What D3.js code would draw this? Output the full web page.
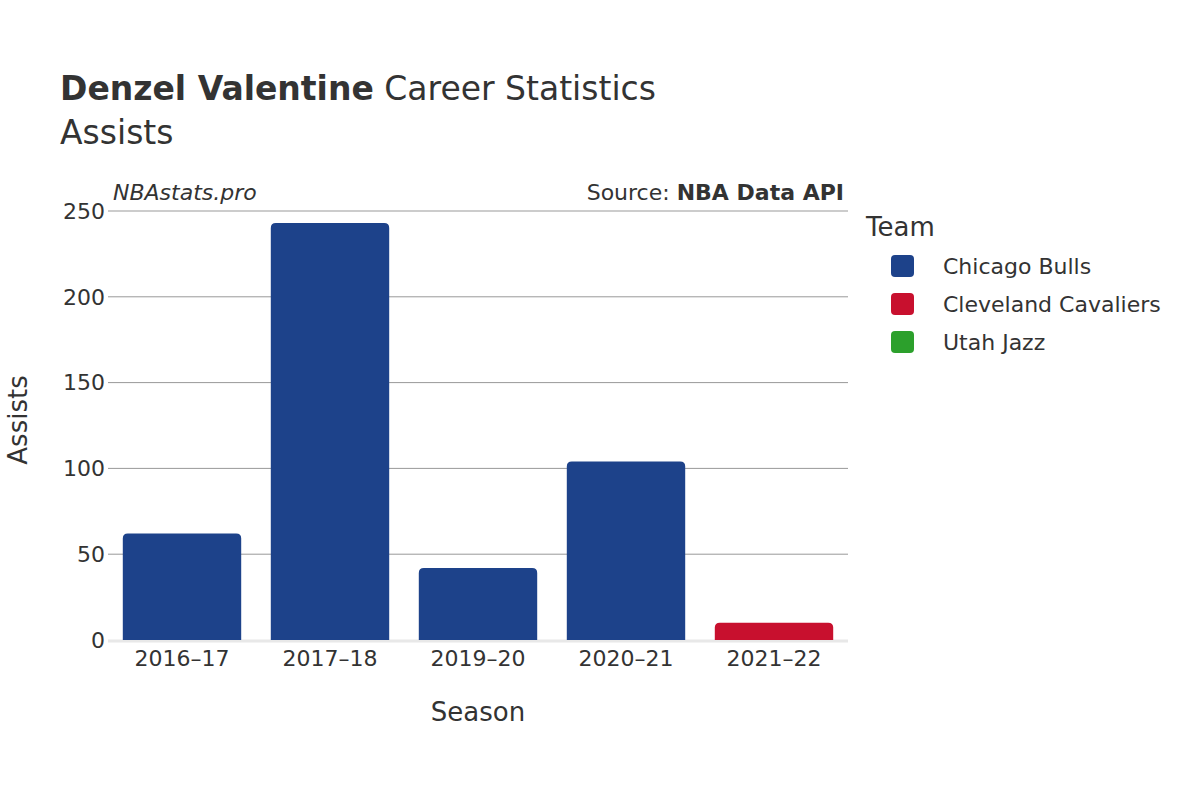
<!DOCTYPE html>
<html><head><meta charset="utf-8">
<script src="https://cdn.jsdelivr.net/npm/d3@7"></script>
<style>body{margin:0;background:#fff}text{font-family:"DejaVu Sans",sans-serif;fill:#333}</style>
</head><body><svg id="c" width="1200" height="800"></svg>
<script>
const seasons = ["2016–17", "2017–18", "2019–20", "2020–21", "2021–22"];
const assists = [62, 243, 42, 104, 10];
const teams = ["Chicago Bulls", "Chicago Bulls", "Chicago Bulls", "Chicago Bulls", "Cleveland Cavaliers"];
const legendTeams = ["Chicago Bulls", "Cleveland Cavaliers", "Utah Jazz"];
const teamColors = ["#1d428a", "#c8102e", "#2ca02c"];
const yTicks = [0, 50, 100, 150, 200, 250];

const svg = d3.select("#c");
const m = {l: 108, r: 848, t: 211, b: 640};
const x = d3.scaleBand().domain(seasons).range([m.l, m.r]).paddingInner(0.2).paddingOuter(0.1);
const y = d3.scaleLinear().domain([0, 250]).range([m.b, m.t]);
const color = d3.scaleOrdinal().domain(legendTeams).range(teamColors);

// grid
svg.append("g").selectAll("line").data(yTicks.slice(1)).join("line")
  .attr("x1", m.l).attr("x2", m.r).attr("y1", d => y(d)).attr("y2", d => y(d))
  .attr("stroke", "#999").attr("stroke-width", 1);
svg.append("line").attr("x1", m.l).attr("x2", m.r).attr("y1", y(0) + 1).attr("y2", y(0) + 1)
  .attr("stroke", "#e8e8e8").attr("stroke-width", 3);

// bars
svg.append("g").selectAll("path").data(seasons).join("path")
  .attr("fill", (d, i) => color(teams[i]))
  .attr("d", (d, i) => {
    const x0 = x(d), w = x.bandwidth(), y0 = y(assists[i]), yb = y(0), r = 5;
    return `M${x0},${yb}V${y0 + r}Q${x0},${y0} ${x0 + r},${y0}H${x0 + w - r}Q${x0 + w},${y0} ${x0 + w},${y0 + r}V${yb}Z`;
  });

// axes labels
svg.append("g").selectAll("text").data(yTicks).join("text")
  .attr("x", m.l - 3).attr("y", d => y(d)).attr("dy", "0.35em").attr("text-anchor", "end")
  .attr("font-size", 22).text(d => d);
svg.append("g").selectAll("text").data(seasons).join("text")
  .attr("x", d => x(d) + x.bandwidth() / 2).attr("y", 666).attr("text-anchor", "middle")
  .attr("font-size", 22).text(d => d);

svg.append("text").attr("x", (m.l + m.r) / 2).attr("y", 721).attr("text-anchor", "middle")
  .attr("font-size", 26).text("Season");
svg.append("text").attr("transform", "translate(27,420) rotate(-90)").attr("text-anchor", "middle")
  .attr("font-size", 26).text("Assists");

// titles
const t = svg.append("text").attr("x", 60).attr("y", 100).attr("font-size", 33);
t.append("tspan").attr("font-weight", "bold").text("Denzel Valentine");
t.append("tspan").text(" Career Statistics");
svg.append("text").attr("x", 60).attr("y", 144).attr("font-size", 33).text("Assists");
svg.append("text").attr("x", 113).attr("y", 200).attr("font-size", 22).attr("font-style", "italic").text("NBAstats.pro");
const s = svg.append("text").attr("x", 844).attr("y", 200).attr("font-size", 22).attr("text-anchor", "end");
s.append("tspan").text("Source: ");
s.append("tspan").attr("font-weight", "bold").text("NBA Data API");

// legend
svg.append("text").attr("x", 866).attr("y", 236).attr("font-size", 26).text("Team");
const lg = svg.append("g").selectAll("g").data(legendTeams).join("g")
  .attr("transform", (d, i) => `translate(891,${266 + i * 38})`);
lg.append("rect").attr("x", 0).attr("y", -11).attr("width", 23).attr("height", 22).attr("rx", 4)
  .attr("fill", d => color(d));
lg.append("text").attr("x", 52).attr("dy", "0.35em").attr("font-size", 22).text(d => d);
</script></body></html>
